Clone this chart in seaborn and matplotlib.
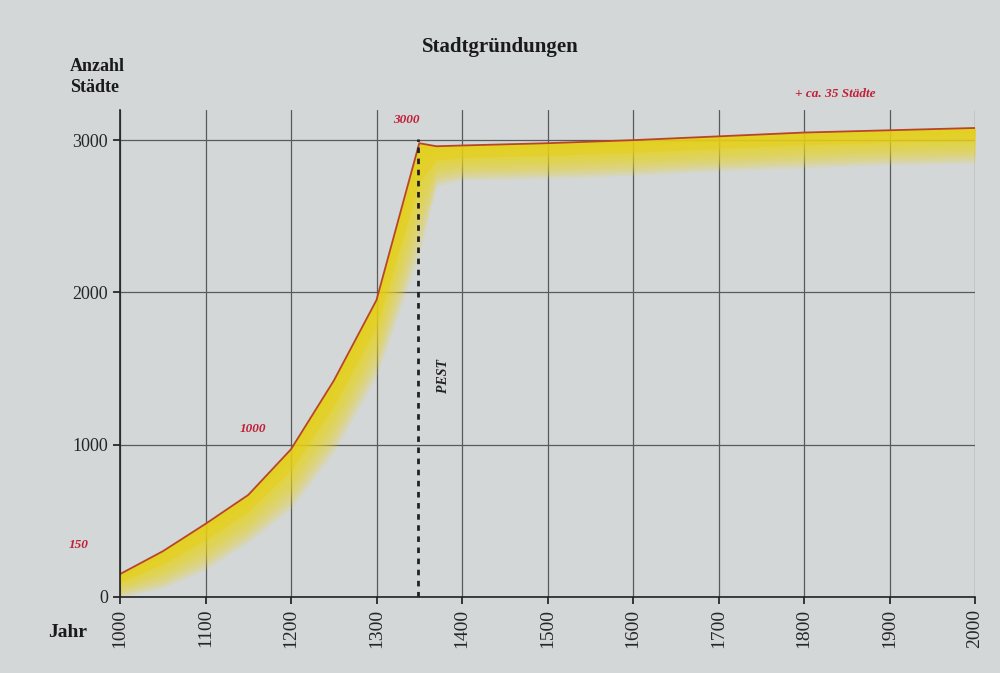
import numpy as np
import pandas as pd
import matplotlib
matplotlib.use("Agg")
import matplotlib.pyplot as plt
import seaborn as sns

# ---- data ----
years = [1000, 1050, 1100, 1150, 1200, 1250, 1300, 1350, 1370, 1400, 1500, 1600, 1700, 1800, 1900, 2000]
cities = [150, 300, 480, 670, 970, 1420, 1950, 2980, 2960, 2965, 2980, 3000, 3025, 3050, 3065, 3080]
band_low = [0, 60, 180, 360, 580, 950, 1450, 2250, 2700, 2740, 2750, 2770, 2800, 2820, 2840, 2850]
xticks = list(range(1000, 2001, 100))
yticks = [0, 1000, 2000, 3000]
plague_year = 1348
annotations = [("150", 940, 340), ("1000", 1140, 1100), ("3000", 1320, 3130), ("+ ca. 35 Städte", 1790, 3300)]

sns.set_theme(style="white")
plt.rcParams['font.family'] = ['Liberation Serif', 'DejaVu Serif']

bg = '#d4d7d7'
fig = plt.figure(figsize=(10, 6.73), dpi=100, facecolor=bg)
ax = fig.add_axes([0.12, 0.113, 0.855, 0.724])
ax.set_facecolor(bg)

df = pd.DataFrame({"Jahr": years, "Städte": cities, "low": band_low})

# yellow band with fading lower edge
up = np.array(cities, float)
lo = np.array(band_low, float)
n = 14
for i in range(n):
    frac = (i + 1) / n
    ax.fill_between(years, up, up - (up - lo) * frac, color='#e8d31e', alpha=0.15, lw=0)
ax.fill_between(years, up, up - (up - lo) * 0.35, color='#e6cb0a', alpha=0.3, lw=0)

sns.lineplot(data=df, x="Jahr", y="Städte", ax=ax, color='#b8452a', lw=1.3)

ax.set_xlim(1000, 2000)
ax.set_ylim(0, 3200)
ax.set_xticks(xticks)
ax.set_yticks(yticks)
ax.grid(True, color='#5a5a5a', lw=0.9)
ax.set_axisbelow(True)
for s in ['top', 'right']:
    ax.spines[s].set_visible(False)
for s in ['left', 'bottom']:
    ax.spines[s].set_color('#222222')
    ax.spines[s].set_linewidth(1.2)
ax.tick_params(axis='x', labelrotation=90, labelsize=14, length=5, color='#222222', direction='out', bottom=True)
ax.tick_params(axis='y', labelsize=13, length=5, color='#222222', left=True)
ax.set_xlabel("")
ax.set_ylabel("")

# plague line
ax.axvline(plague_year, ymin=0, ymax=3010 / 3200, color='#222222', lw=2, ls=(0, (2, 2)))
ax.text(plague_year + 30, 1450, "PEST", rotation=90, fontsize=10, fontstyle='italic',
        fontweight='bold', color='#222222', ha='center', va='center')

for txt, x, y in annotations:
    ax.text(x, y, txt, color='#c0203a', fontsize=9.5, fontstyle='italic', fontweight='bold',
            ha='left', va='center')

fig.text(0.50, 0.930, "Stadtgründungen", fontsize=15, fontweight='bold', ha='center', va='center', color='#1a1a1a')
fig.text(0.07, 0.885, "Anzahl\nStädte", fontsize=13, fontweight='bold', ha='left', va='center',
         color='#1a1a1a', linespacing=1.3)
fig.text(0.048, 0.06, "Jahr", fontsize=14, fontweight='bold', ha='left', va='center', color='#1a1a1a')

fig.savefig("out.png", dpi=100, facecolor=bg)
